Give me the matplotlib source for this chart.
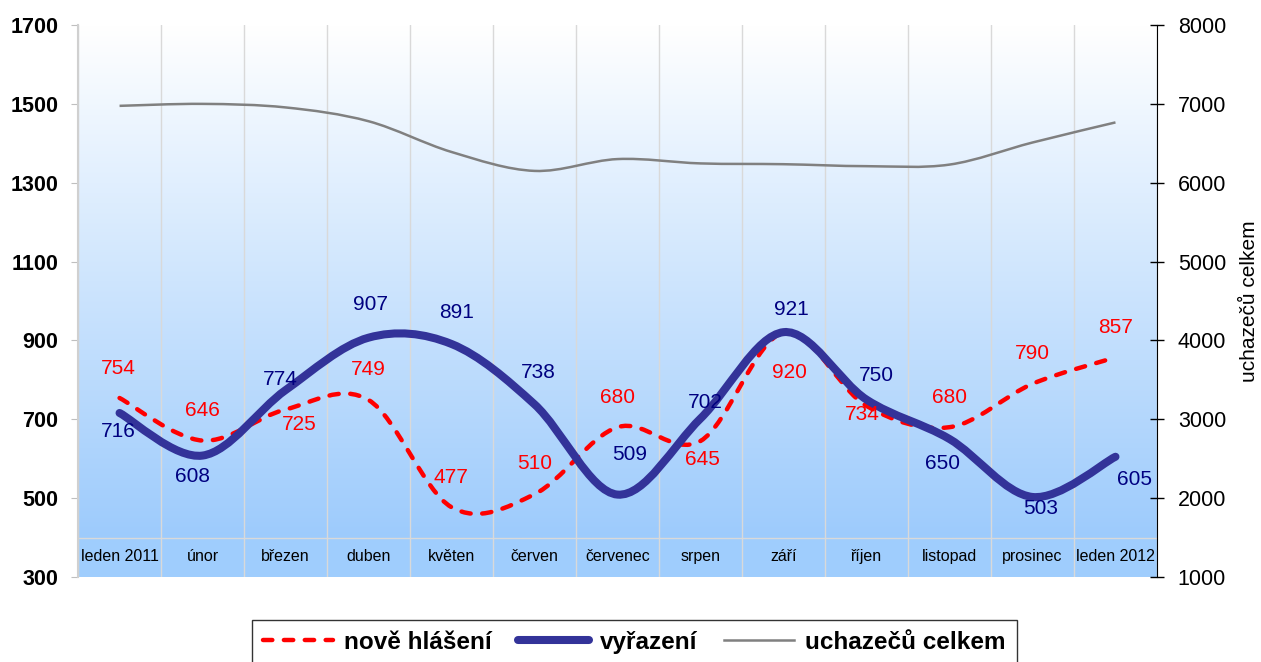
import matplotlib

matplotlib.use("Agg")
import matplotlib.pyplot as plt
import numpy as np
from matplotlib.lines import Line2D
from matplotlib.patches import PathPatch
from matplotlib.path import Path

plt.rcParams["font.family"] = ["Liberation Sans", "DejaVu Sans"]

months = ["leden 2011", "únor", "březen", "duben", "květen", "červen", "červenec",
          "srpen", "září", "říjen", "listopad", "prosinec", "leden 2012"]
nove = [754, 646, 725, 749, 477, 510, 680, 645, 920, 734, 680, 790, 857]
vyrazeni = [716, 608, 774, 907, 891, 738, 509, 702, 921, 750, 650, 503, 605]
celkem = [6975, 7000, 6955, 6780, 6390, 6150, 6300, 6245, 6235, 6210, 6230, 6510, 6765]

left_ticks = [300, 500, 700, 900, 1100, 1300, 1500, 1700]
right_ticks = [1000, 2000, 3000, 4000, 5000, 6000, 7000, 8000]

# label offsets in pixels (dx, dy downwards)
nove_off = [(-1, -30), (0, -30), (14, 15), (0, -30), (-1, -30), (0, -31), (0, -30),
            (2, 19), (6, 40), (-4, 9), (0, -30), (0, -30), (0, -30)]
vyr_off = [(-1, 19), (-10, 21), (-5, -11), (2, -33), (5, -31), (4, -32), (12, -40),
           (5, -16), (8, -23), (10, -24), (-7, 24), (8, 12), (19, 23)]

RED = "#ff0000"
BLUE = "#333399"
NAVY = "#000080"
GREY = "#808080"
DASH = (0, (2.1, 2.6))


def smooth_path(xs, ys):
    # cubic bezier through the points, catmull-rom style tangents
    n = len(xs)
    verts = [(xs[0], ys[0])]
    codes = [Path.MOVETO]
    for i in range(n - 1):
        a = max(i - 1, 0)
        b = min(i + 2, n - 1)
        c1 = (xs[i] + (xs[i + 1] - xs[a]) / 6, ys[i] + (ys[i + 1] - ys[a]) / 6)
        c2 = (xs[i + 1] - (xs[b] - xs[i]) / 6, ys[i + 1] - (ys[b] - ys[i]) / 6)
        verts += [c1, c2, (xs[i + 1], ys[i + 1])]
        codes += [Path.CURVE4] * 3
    return Path(verts, codes)


x = np.arange(len(months))

fig = plt.figure(figsize=(12.61, 6.62), dpi=100)
ax = fig.add_axes([0.0619, 0.1284, 0.8556, 0.8338])
ax.set_xlim(-0.5, len(months) - 0.5)
ax.set_ylim(300, 1700)

# background: gradient above 400, flat band below
grad = np.linspace(0, 1, 256)[:, None]
top = np.array([1.0, 1.0, 1.0])
bot = np.array([157, 203, 252]) / 255
img = top + (bot - top) * grad[:, :, None]
img = np.repeat(img, 2, axis=1)
ax.imshow(img, extent=(-0.5, len(months) - 0.5, 400, 1700), aspect="auto",
          origin="upper", zorder=0)
ax.axhspan(300, 400, color="#9fcdfd", zorder=0, lw=0)
ax.axhline(400, color="#d9d9d9", lw=1, zorder=1)
for b in np.arange(-0.5, len(months), 1.0):
    ax.axvline(b, color="#d9d9d9", lw=1, zorder=1)

for i, m in enumerate(months):
    ax.text(i, 353, m, ha="center", va="center", fontsize=11.5, zorder=2)

ax.add_patch(PathPatch(smooth_path(x, nove), fill=False, edgecolor=RED, lw=3.2,
                       linestyle=DASH, capstyle="round", zorder=3))
ax.add_patch(PathPatch(smooth_path(x, vyrazeni), fill=False, edgecolor=BLUE, lw=5.8,
                       capstyle="round", zorder=4))

for xi, v, (dx, dy) in zip(x, nove, nove_off):
    ax.annotate(str(v), (xi, v), xytext=(dx, -dy), textcoords="offset pixels",
                ha="center", va="center", fontsize=15, color=RED, zorder=5)
for xi, v, (dx, dy) in zip(x, vyrazeni, vyr_off):
    ax.annotate(str(v), (xi, v), xytext=(dx, -dy), textcoords="offset pixels",
                ha="center", va="center", fontsize=15, color=NAVY, zorder=5)

ax.set_xticks([])
ax.set_yticks(left_ticks)
ax.set_yticklabels([str(t) for t in left_ticks], fontsize=15.5, fontweight="bold")
ax.tick_params(axis="y", colors="#bfbfbf", length=5, labelcolor="black", pad=9)
for s in ["top", "bottom", "right"]:
    ax.spines[s].set_visible(False)
ax.spines["left"].set_color("#d0d0d0")
ax.spines["left"].set_linewidth(1.5)

ax2 = ax.twinx()
ax2.set_ylim(1000, 8000)
ax2.add_patch(PathPatch(smooth_path(x, celkem), fill=False, edgecolor=GREY, lw=1.8,
                        zorder=3))
ax2.set_yticks(right_ticks)
ax2.set_yticklabels([str(t) for t in right_ticks], fontsize=15.5)
ax2.tick_params(axis="y", direction="inout", length=10, width=1, pad=10)
for s in ["top", "bottom", "left"]:
    ax2.spines[s].set_visible(False)
ax2.spines["right"].set_color("black")
ax2.set_ylabel("uchazečů celkem", fontsize=15, labelpad=10)

handles = [
    Line2D([], [], color=RED, lw=3.2, linestyle=DASH, dash_capstyle="round"),
    Line2D([], [], color=BLUE, lw=5.8, solid_capstyle="round"),
    Line2D([], [], color=GREY, lw=1.8),
]
leg = fig.legend(handles, ["nově hlášení", "vyřazení", "uchazečů celkem"],
                 loc="upper center", bbox_to_anchor=(0.503, 0.0634), ncol=3,
                 frameon=True, fancybox=False, edgecolor="black",
                 prop={"weight": "bold", "size": 17.5}, handlelength=2.9,
                 handletextpad=0.45, columnspacing=1.1, borderpad=0.45,
                 borderaxespad=0)
leg.get_frame().set_linewidth(1.0)

fig.savefig("out.png", dpi=100)
